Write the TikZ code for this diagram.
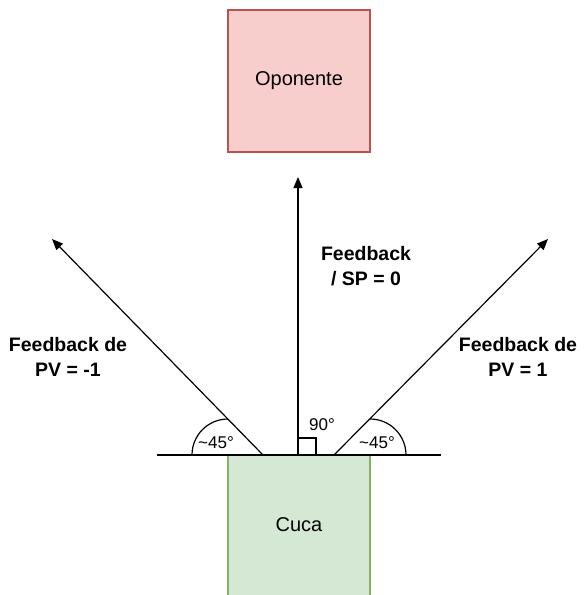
\documentclass[tikz,border=0pt]{standalone}
\usepackage{fontspec}
\setmainfont{Liberation Sans}
\usetikzlibrary{arrows.meta}
\definecolor{rougefond}{HTML}{F8CECC}
\definecolor{rougebord}{HTML}{B85450}
\definecolor{vertfond}{HTML}{D5E8D4}
\definecolor{vertbord}{HTML}{82B366}
\tikzset{
  boite/.style={draw, line width=1.2pt, minimum width=142pt, minimum height=142pt, inner sep=0pt, font=\fontsize{20}{24}\selectfont},
  fleche/.style={line width=1.2pt, -{Triangle[length=11pt,width=9pt]}},
  etiquette/.style={align=center, font=\bfseries\fontsize{19.5}{25}\selectfont},
  angle/.style={font=\fontsize{17}{20}\selectfont, inner sep=0pt}
}
\begin{document}
\begin{tikzpicture}[x=1pt,y=-1pt]
\useasboundingbox (0,0) rectangle (586,595);

% Les deux boites
\node[boite, fill=rougefond, draw=rougebord] (oponente) at (299,81) {Oponente};
\begin{scope}
\clip (0,0) rectangle (586,595);
\node[boite, fill=vertfond, draw=vertbord, minimum height=150pt] (cuca) at (299,530) {};
\end{scope}
\node[font=\fontsize{20}{24}\selectfont] (cucatexte) at (299,525) {Cuca};

% Points de depart et pointes
\coordinate (baseg) at (157,455);
\coordinate (based) at (441,455);
\coordinate (og) at (263,455);
\coordinate (oc) at (298,455);
\coordinate (od) at (334,455);
\coordinate (pg) at (52,239);
\coordinate (pc) at (298,177);
\coordinate (pd) at (548,239);

% Ligne de base
\draw[line width=1.2pt] (baseg) -- (based);

% Fleches
\draw[fleche] (og) -- (pg);
\draw[fleche] (oc) -- (pc);
\draw[fleche] (od) -- (pd);

% Angles
\draw[line width=1.2pt] (192,455) arc[start angle=180, end angle=270, radius=36];
\draw[line width=1.2pt] (370,419) arc[start angle=270, end angle=360, radius=36];
\draw[line width=1.2pt] (298,438) -- (316,438) -- (316,455);

% Textes
\node[angle] (angg) at (216,443) {\textasciitilde45°};
\node[angle] (angd) at (377,443) {\textasciitilde45°};
\node[angle] (angc) at (322,425) {90°};
\node[etiquette] (fbg) at (68,357) {Feedback de\\PV = -1};
\node[etiquette] (fbd) at (518,357) {Feedback de\\PV = 1};
\node[etiquette] (fbc) at (366,266) {Feedback\\/ SP = 0};

\end{tikzpicture}
\end{document}
